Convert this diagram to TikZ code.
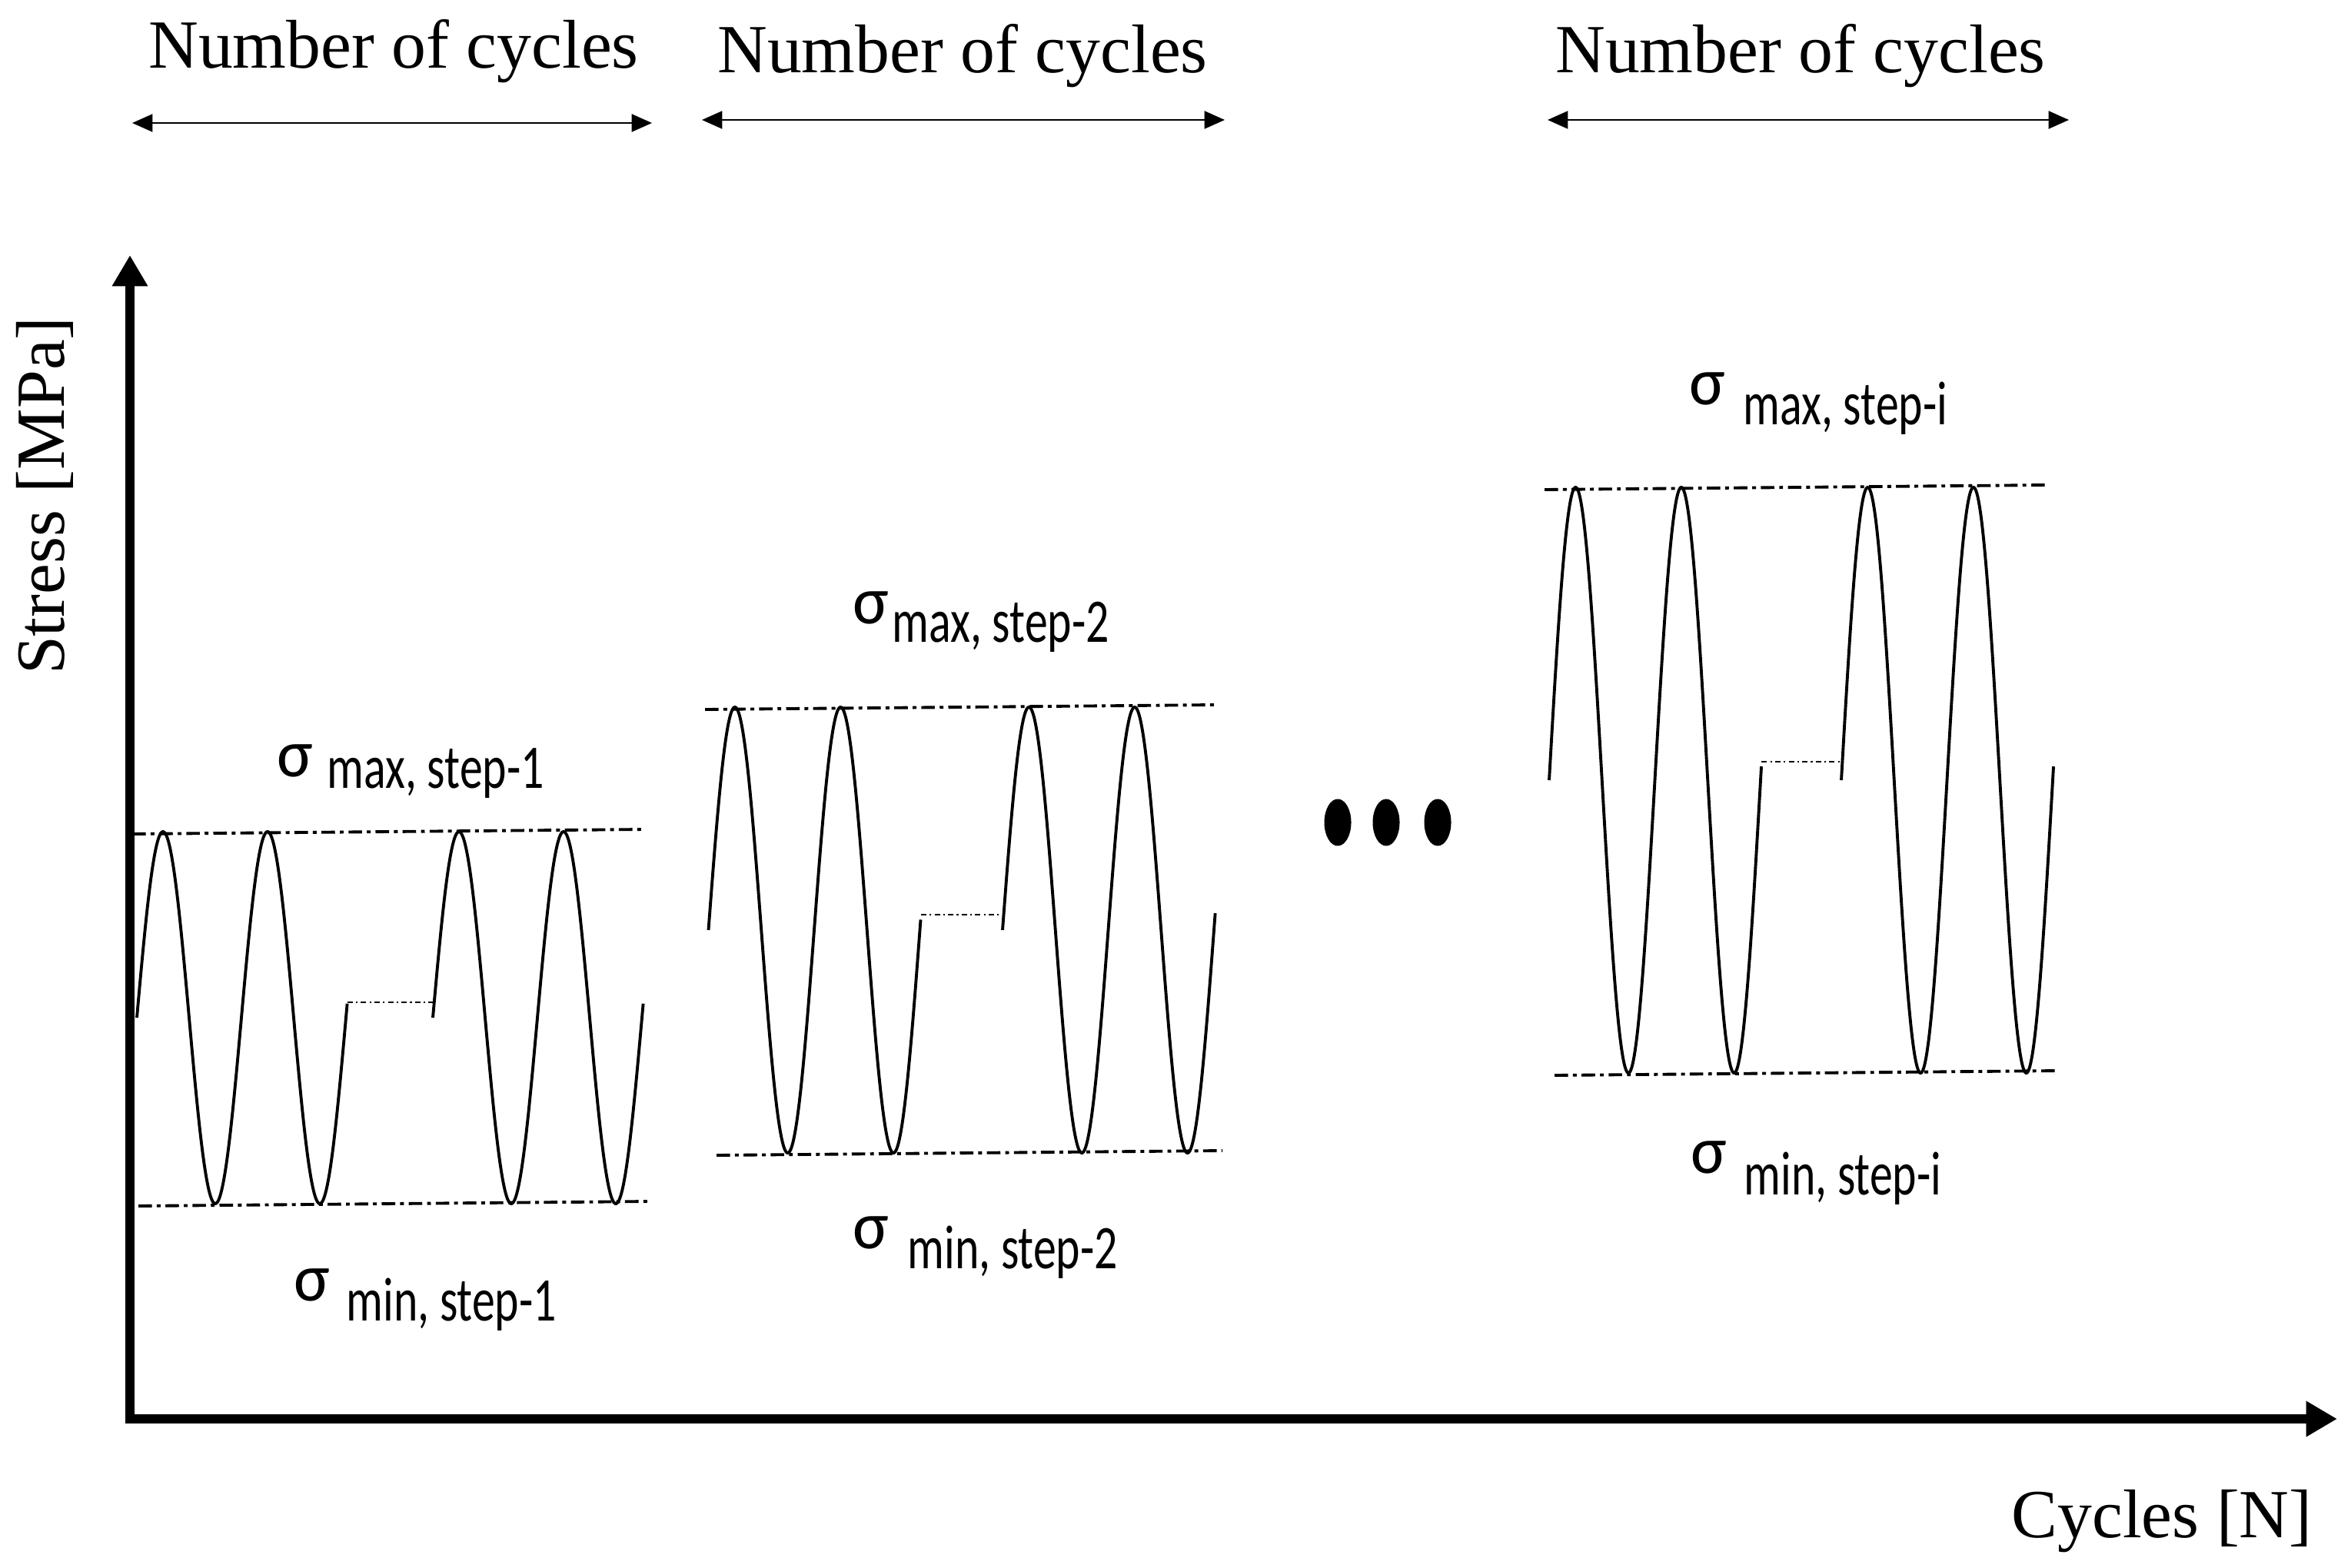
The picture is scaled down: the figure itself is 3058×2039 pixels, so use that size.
\documentclass[tikz,border=0pt]{standalone}
\usepackage{fontspec}
\setmainfont{Liberation Serif}
\newfontfamily\calib{Carlito}
\usepackage{graphicx}
\usetikzlibrary{arrows.meta}
\begin{document}
\begin{tikzpicture}[x=0.01cm, y=-0.01cm,
  axisline/.style={line width=3.6pt, {Triangle[length=11.5pt,width=12.5pt]}-{Triangle[length=11.5pt,width=12.5pt]}},
  toparrow/.style={line width=0.75pt, {Triangle[length=7.5pt,width=6.5pt]}-{Triangle[length=7.5pt,width=6.5pt]}},
  wave/.style={line width=1.1pt},
  limitline/.style={line width=1.1pt, dash pattern=on 5pt off 1.8pt on 1.4pt off 1.8pt},
  gapline/.style={line width=0.5pt, dash pattern=on 2pt off 1.2pt on 0.6pt off 1.2pt},
  serif/.style={font=\fontsize{25.5}{30}\selectfont, inner sep=0pt},
  sig/.style={font=\calib\fontsize{25}{29}\selectfont, inner sep=0pt},
  sub/.style={font=\calib\fontsize{17}{20}\selectfont, inner sep=0pt, anchor=base west}]
\useasboundingbox (0,0) rectangle (3058,2039);

% axes
\coordinate (ytip) at (169,332);
\coordinate (corner) at (169,1846);
\coordinate (xtip) at (3040,1846);
\draw[axisline] (ytip) -- (corner) -- (xtip);
\node[serif, rotate=90] (ylab) at (58,645) {Stress [MPa]};
\node[serif, anchor=base] (xlab) at (2812,2000) {Cycles [N]};

% top labels and arrows
\node[serif, anchor=base] (n1) at (512,88) {Number of cycles};
\node[serif, anchor=base] (n2) at (1252,94) {Number of cycles};
\node[serif, anchor=base] (n3) at (2342,94) {Number of cycles};
\coordinate (a1l) at (172,160); \coordinate (a1r) at (848,160);
\coordinate (a2l) at (913,156); \coordinate (a2r) at (1593,156);
\coordinate (a3l) at (2013,156); \coordinate (a3r) at (2691,156);
\draw[toparrow] (a1l) -- (a1r);
\draw[toparrow] (a2l) -- (a2r);
\draw[toparrow] (a3l) -- (a3r);

% block 1
\draw[limitline] (172,1085) -- (838,1079);
\draw[limitline] (180,1569) -- (845,1563);
\draw[wave] plot[domain=0:2.013, samples=300] ({178+\x*136}, {1324-242*sin(\x*360)});
\coordinate (g1a) at (451.8,1304); \coordinate (g1b) at (563,1304);
\draw[gapline] (g1a) -- (g1b);
\draw[wave] plot[domain=0:2.013, samples=300] ({563+\x*136}, {1324-242*sin(\x*360)});
\node[sig] (s1max) at (384,990) {σ};
\node[sub] (t1max) at (425,1025) {\scalebox{1}[1.35]{max, step-1}};
\node[sig] (s1min) at (406,1672) {σ};
\node[sub] (t1min) at (450,1718) {\scalebox{1}[1.35]{min, step-1}};

% block 2
\draw[limitline] (917,923) -- (1580,917);
\draw[limitline] (932,1503) -- (1590,1497);
\draw[wave] plot[domain=0:2.011, samples=300] ({921.5+\x*137.5}, {1210-290*sin(\x*360)});
\coordinate (g2a) at (1198,1190); \coordinate (g2b) at (1304,1190);
\draw[gapline] (g2a) -- (g2b);
\draw[wave] plot[domain=0:2.013, samples=300] ({1304+\x*137.5}, {1210-290*sin(\x*360)});
\node[sig] (s2max) at (1133,791) {σ};
\node[sub] (t2max) at (1160,835) {\scalebox{1}[1.35]{max, step-2}};
\node[sig] (s2min) at (1133,1604) {σ};
\node[sub] (t2min) at (1180,1650) {\scalebox{1}[1.35]{min, step-2}};

% ellipsis
\fill (1740,1070) ellipse [x radius=0.175cm, y radius=0.305cm];
\fill (1803,1070) ellipse [x radius=0.175cm, y radius=0.305cm];
\fill (1870,1070) ellipse [x radius=0.175cm, y radius=0.305cm];

% block 3
\draw[limitline] (2009,637) -- (2662,631);
\draw[limitline] (2022,1399) -- (2678,1393);
\draw[wave] plot[domain=0:2.01, samples=300] ({2015+\x*137.5}, {1015-381*sin(\x*360)});
\coordinate (g3a) at (2291.4,991); \coordinate (g3b) at (2395,991);
\draw[gapline] (g3a) -- (g3b);
\draw[wave] plot[domain=0:2.012, samples=300] ({2395+\x*137.5}, {1015-381*sin(\x*360)});
\node[sig] (s3max) at (2221,506) {σ};
\node[sub] (t3max) at (2267,552) {\scalebox{1}[1.35]{max, step-i}};
\node[sig] (s3min) at (2223,1506) {σ};
\node[sub] (t3min) at (2268,1554) {\scalebox{1}[1.35]{min, step-i}};
\end{tikzpicture}
\end{document}
